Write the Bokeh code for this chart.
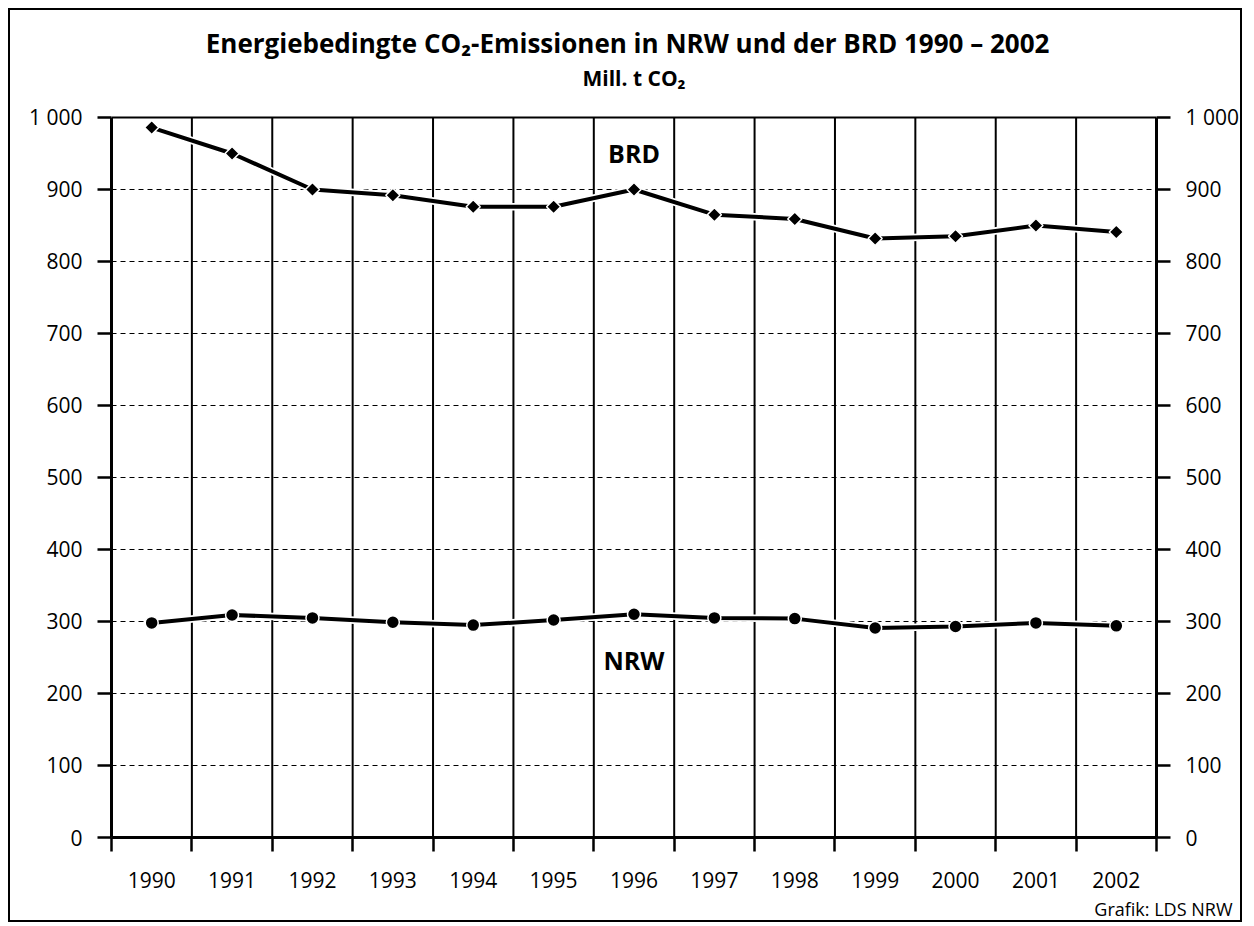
import numpy as np
from bokeh.plotting import figure
from bokeh.models import (LinearAxis, FixedTicker, Range1d, Title, Label, Grid, Span,
                          ColumnDataSource, CustomJSTickFormatter)
from bokeh.embed import file_html
from bokeh.resources import INLINE

# ---- data ----
years = ["1990", "1991", "1992", "1993", "1994", "1995", "1996",
         "1997", "1998", "1999", "2000", "2001", "2002"]
brd = [986, 950, 900, 892, 876, 876, 900, 865, 859, 832, 835, 850, 841]
nrw = [298, 309, 305, 299, 295, 302, 310, 305, 304, 291, 293, 298, 294]
y_ticks = [0, 100, 200, 300, 400, 500, 600, 700, 800, 900, 1000]
y_tick_labels = ["0", "100", "200", "300", "400", "500", "600", "700", "800", "900", "1 000"]

title = "Energiebedingte CO₂-Emissionen in NRW und der BRD 1990 – 2002"
subtitle = "Mill. t CO₂"
source_note = "Grafik: LDS NRW"

FONT = "Open Sans"
n = len(years)
ymax = y_ticks[-1]
xpos = np.arange(n) + 0.5
src = ColumnDataSource(dict(x=xpos, year=years, brd=brd, nrw=nrw))

# frame reaches up to the canvas top; the area above 1 000 holds the titles
p = figure(width=1234, height=914, x_range=Range1d(0, n), y_range=Range1d(0, 1148.6),
           x_axis_type=None, y_axis_type=None,
           output_backend="svg", toolbar_location=None,
           min_border_left=101, min_border_right=88, min_border_top=0, min_border_bottom=87)
p.styles = {"border": "2px solid black", "margin-left": "8px", "margin-top": "8px"}
p.outline_line_color = None
p.background_fill_color = "white"
p.border_fill_color = "white"

# grids
p.add_layout(Grid(dimension=1, ticker=FixedTicker(ticks=y_ticks[1:-1]),
                  grid_line_color="black", grid_line_dash="5 4", grid_line_width=1))
bounds_x = list(range(1, n))
p.segment(x0=bounds_x, y0=[0] * len(bounds_x), x1=bounds_x, y1=[ymax] * len(bounds_x),
          line_color="black", line_width=2)
p.add_layout(Span(location=ymax, dimension="width", line_color="black", line_width=2))

def yaxis():
    return LinearAxis(ticker=FixedTicker(ticks=y_ticks), bounds=(0, ymax),
                      major_label_overrides=dict(zip(y_ticks, y_tick_labels)),
                      axis_line_width=3, major_tick_line_width=2.5,
                      major_tick_out=14, major_tick_in=0,
                      minor_tick_line_color=None,
                      major_label_text_font=FONT, major_label_text_font_size="21px",
                      major_label_text_color="black", major_label_standoff=15)

p.add_layout(yaxis(), "left")
p.add_layout(yaxis(), "right")

xa = LinearAxis(ticker=FixedTicker(ticks=list(xpos), minor_ticks=list(range(0, n + 1))),
                formatter=CustomJSTickFormatter(args=dict(years=years),
                                                code="return years[Math.floor(tick)];"),
                axis_line_width=3, major_tick_out=0, major_tick_in=0,
                minor_tick_out=14, minor_tick_in=0, minor_tick_line_width=2.5,
                minor_tick_line_color="black",
                major_label_text_font=FONT, major_label_text_font_size="21px",
                major_label_text_color="black", major_label_standoff=20)
p.add_layout(xa, "below")

# series
for col, marker, size in (("brd", "square", 10), ("nrw", "circle", 13)):
    p.line("x", col, source=src, line_color="white", line_width=7.5)
    p.line("x", col, source=src, line_color="black", line_width=4)
    p.scatter("x", col, source=src, marker=marker, size=size,
              angle=(np.pi / 4 if marker == "square" else 0),
              fill_color="black", line_color="white", line_width=1.5)

def label(x, y, text, size, baseline="middle"):
    p.add_layout(Label(x=x, y=y, text=text, text_align="center", text_baseline=baseline,
                       text_font=FONT, text_font_style="bold", text_font_size=size,
                       text_color="black"))

label(6.5, 950, "BRD", "25px")
label(6.5, 247, "NRW", "25px")
label(6.42, 1103.5, title, "26px", baseline="alphabetic")
label(6.5, 1054.5, subtitle, "21px", baseline="alphabetic")

p.add_layout(Title(text=source_note, align="right", text_font=FONT,
                   text_font_style="normal", text_font_size="18px", text_color="black",
                   offset=-76, standoff=8), "below")

open("out.html", "w").write(file_html(p, INLINE))
